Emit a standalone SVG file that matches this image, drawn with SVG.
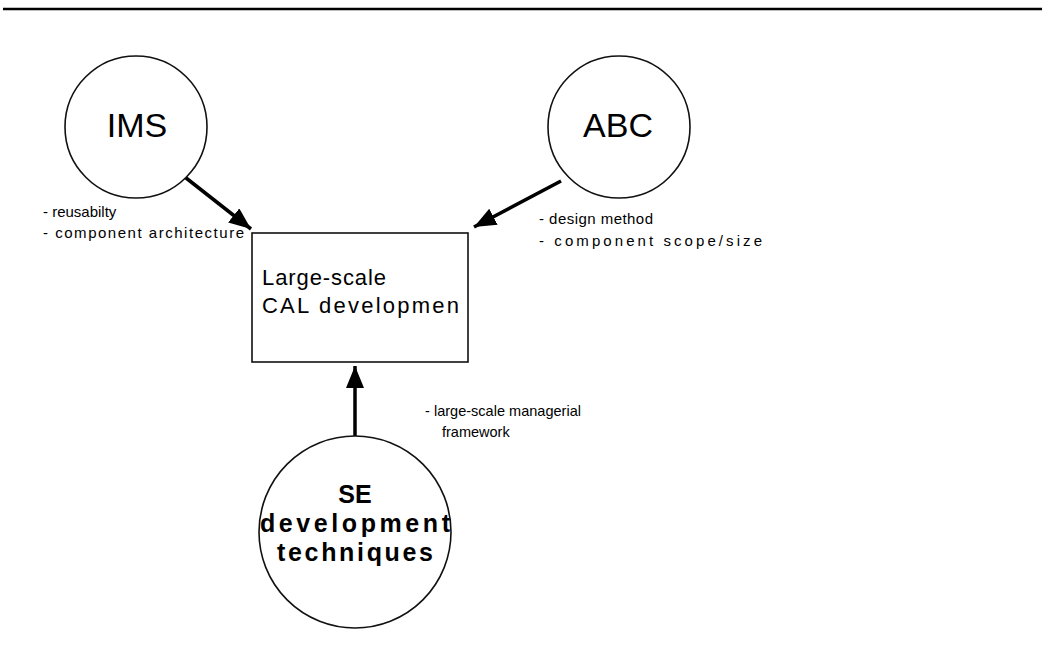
<svg xmlns="http://www.w3.org/2000/svg" width="1042" height="669" viewBox="0 0 1042 669">
  <defs>
    <marker id="head" markerUnits="userSpaceOnUse" markerWidth="24" markerHeight="20" refX="22" refY="9" orient="auto">
      <path d="M0,0 L22,9 L0,18 Z" fill="#000"/>
    </marker>
    <style>
      .ring { fill: #fff; stroke: #111; stroke-width: 1.6; }
      .box { fill: #fff; stroke: #111; stroke-width: 1.6; }
      .title { font-family: "Liberation Sans", Arial, sans-serif; font-size: 34px; fill: #000; text-anchor: middle; }
      .se { font-family: "Liberation Sans", Arial, sans-serif; font-size: 25px; font-weight: bold; fill: #000; text-anchor: middle; }
      .inner { font-family: "Liberation Sans", Arial, sans-serif; font-size: 22px; fill: #000; }
      .note { font-family: "Liberation Sans", Arial, sans-serif; font-size: 15px; fill: #000; }
      .small { font-size: 14.5px; }
      .link { stroke: #000; stroke-width: 3.5; fill: none; }
    </style>
  </defs>

  <rect width="1042" height="669" fill="#fff"/>

  <!-- page rule along the top -->
  <line x1="3" y1="9" x2="1042" y2="9" stroke="#000" stroke-width="2.5"/>

  <!-- connectors -->
  <g id="connectors">
    <line class="link" x1="181" y1="174" x2="251" y2="229" marker-end="url(#head)"/>
    <line class="link" x1="561" y1="181" x2="474" y2="227" marker-end="url(#head)"/>
    <line class="link" x1="355" y1="436" x2="355" y2="366" marker-end="url(#head)"/>
  </g>

  <g id="ims">
    <circle class="ring" cx="136" cy="127" r="71"/>
    <text class="title" x="137" y="137">IMS</text>
    <text class="note" x="43" y="217">- reusabilty</text>
    <text class="note" x="43" y="238" textLength="201" lengthAdjust="spacing">- component architecture</text>
  </g>

  <g id="abc">
    <circle class="ring" cx="619" cy="127" r="71"/>
    <text class="title" x="618" y="137">ABC</text>
    <text class="note" x="539" y="224" textLength="114" lengthAdjust="spacing">- design method</text>
    <text class="note" x="539" y="246" textLength="223" lengthAdjust="spacing">- component scope/size</text>
  </g>

  <g id="cal">
    <rect class="box" x="252" y="233" width="216" height="129"/>
    <text class="inner" x="262" y="285" textLength="124" lengthAdjust="spacing">Large-scale</text>
    <text class="inner" x="262" y="313" textLength="197" lengthAdjust="spacing">CAL developmen</text>
  </g>

  <g id="se">
    <circle class="ring" cx="355" cy="532" r="96"/>
    <text class="se" x="355" y="503">SE</text>
    <text class="se" x="355" y="532" textLength="190" lengthAdjust="spacing">development</text>
    <text class="se" x="355" y="561" textLength="156" lengthAdjust="spacing">techniques</text>
    <text class="note small" x="425" y="416" textLength="156" lengthAdjust="spacing">- large-scale managerial</text>
    <text class="note small" x="442" y="437">framework</text>
  </g>
</svg>
